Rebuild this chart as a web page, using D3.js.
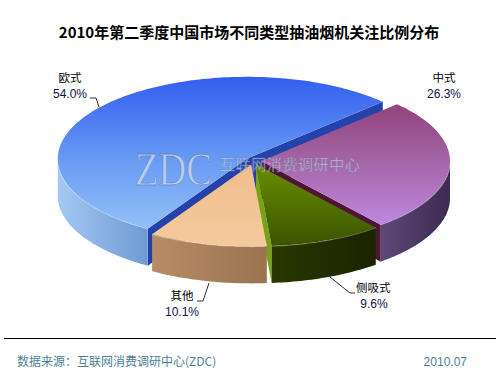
<!DOCTYPE html>
<html>
<head>
<meta charset="utf-8">
<script src="https://cdn.jsdelivr.net/npm/d3@7"></script>
<style>
  body { margin: 0; background: #fff; }
  svg { display: block; font-family: "Noto Sans CJK SC", "Liberation Sans", sans-serif; }
</style>
</head>
<body>
<div id="chart"></div>
<script>
// 數據
const categories = ["中式", "侧吸式", "其他", "欧式"];
const values = [26.3, 9.6, 10.1, 54.0];
const valueLabels = ["26.3%", "9.6%", "10.1%", "54.0%"];
const titleText = "2010年第二季度中国市场不同类型抽油烟机关注比例分布";
const sourceText = "数据来源：互联网消费调研中心(ZDC)";
const dateText = "2010.07";

// 顏色 (top 漸層 / 側面 / 切面)
const topColors = [
  ["#8a3468", "#a466a8", "#c792f2"],
  ["#92c200", "#6a9000", "#3c5400"],
  ["#efb785", "#f1bd8c", "#f5c99c"],
  ["#3560ee", "#6a9cf4", "#9dc9fa"]
];
const wallColors = [["#5e4878", "#3c2a52"], ["#283800", "#1a2400"], ["#b68c66", "#9a7450"], ["#a4c8f2", "#6e9ad4"]];
const cutColors = ["#4e1634", "#74a414", "#a07a56", "#2343aa"];

const W = 500, H = 375;
const cx = 253, cy = 161, rx = 189, ry = 82, depth = 37, explode = 8;
const k = ry / rx;
const startOffset = 46 * Math.PI / 180;

const svg = d3.select("#chart").append("svg").attr("width", W).attr("height", H);
const defs = svg.append("defs");

// 標題
svg.append("text").attr("x", 249).attr("y", 38).attr("text-anchor", "middle")
  .attr("font-size", 15).attr("font-weight", "bold").attr("fill", "#000").text(titleText);

const pie = d3.pie().sort(null).startAngle(startOffset).endAngle(startOffset + 2 * Math.PI);
const arcs = pie(values).map((d, i) => {
  const m = (d.startAngle + d.endAngle) / 2;
  return { ...d, i, m, ox: explode * Math.sin(m), oy: -explode * Math.cos(m) * k };
});

// 漸層
arcs.forEach((d, i) => {
  const g = defs.append("linearGradient").attr("id", "top" + i)
    .attr("gradientUnits", "userSpaceOnUse").attr("x1", 0).attr("x2", 0).attr("y1", 80).attr("y2", 245);
  topColors[i].forEach((c, j) => g.append("stop").attr("offset", j / (topColors[i].length - 1)).attr("stop-color", c));
  const w = defs.append("linearGradient").attr("id", "wall" + i)
    .attr("x1", 0).attr("x2", 1).attr("y1", 0).attr("y2", 0);
  w.append("stop").attr("offset", 0).attr("stop-color", wallColors[i][0]);
  w.append("stop").attr("offset", 1).attr("stop-color", wallColors[i][1]);
});

const pt = (d, a, z) => [cx + d.ox + rx * Math.sin(a), cy + d.oy - ry * Math.cos(a) + z];
const arcPts = (d, a0, a1, z) => {
  const n = Math.max(2, Math.ceil(Math.abs(a1 - a0) / 0.02));
  return d3.range(n + 1).map(j => pt(d, a0 + (a1 - a0) * j / n, z));
};
const line = d3.line();

const walls = svg.append("g");
const tops = svg.append("g");

// 由後往前畫側面
const order = arcs.slice().sort((a, b) => -Math.cos(a.m) - -Math.cos(b.m));
order.forEach(d => {
  const apex = [cx + d.ox, cy + d.oy];
  // 切面
  [[d.startAngle, d.startAngle - Math.PI / 2], [d.endAngle, d.endAngle + Math.PI / 2]].forEach(([a, nrm]) => {
    if (Math.cos(nrm) < 0) {
      const e = pt(d, a, 0);
      walls.append("path")
        .attr("d", line([apex, e, [e[0], e[1] + depth], [apex[0], apex[1] + depth]]) + "Z")
        .attr("fill", cutColors[d.i]);
    }
  });
  // 外側面 (只畫朝前的部分)
  [[Math.PI / 2, 3 * Math.PI / 2], [5 * Math.PI / 2, 7 * Math.PI / 2]].forEach(([lo, hi]) => {
    const t0 = Math.max(lo, d.startAngle), t1 = Math.min(hi, d.endAngle);
    if (t1 > t0) {
      const up = arcPts(d, t0, t1, 0), down = arcPts(d, t1, t0, depth);
      walls.append("path").attr("d", line(up.concat(down)) + "Z").attr("fill", `url(#wall${d.i})`);
      walls.append("path").attr("d", line(up)).attr("fill", "none")
        .attr("stroke", "#fff").attr("stroke-opacity", 0.35).attr("stroke-width", 1.5);
    }
  });
});

// 頂面
arcs.forEach(d => {
  const apex = [cx + d.ox, cy + d.oy];
  tops.append("path")
    .attr("d", line([apex].concat(arcPts(d, d.startAngle, d.endAngle, 0))) + "Z")
    .attr("fill", `url(#top${d.i})`);
});

// 浮水印
const wm = svg.append("g").attr("opacity", 0.6);
wm.append("text").attr("x", 135).attr("y", 185).attr("font-family", "Liberation Serif, serif")
  .attr("font-size", 46).attr("textLength", 77).attr("lengthAdjust", "spacingAndGlyphs")
  .attr("fill", "#e4ebf7").attr("stroke", "#6f7f9f").attr("stroke-width", 0.8).text("ZDC");
wm.append("text").attr("x", 220).attr("y", 170).attr("font-size", 15).attr("letter-spacing", 0.6)
  .attr("fill", "#e4ebf7").attr("stroke", "#6f7f9f").attr("stroke-width", 0.4).text("互联网消费调研中心");

// 標籤
const labelPos = [
  { x: 444, y1: 82, y2: 98, anchor: "middle", line: null },
  { x: 356, y1: 292, y2: 308, x2: 374, anchor: "start", line: [[330, 277], [350, 293], [355, 293]] },
  { x: 182, y1: 300, y2: 316, anchor: "middle", line: [[209, 283], [203, 301], [197, 301]] },
  { x: 70, y1: 82, y2: 98, anchor: "middle", line: [[90, 98], [96, 98], [99, 107]] }
];
const labels = svg.append("g");
arcs.forEach(d => {
  const p = labelPos[d.i];
  labels.append("text").attr("x", p.x).attr("y", p.y1).attr("text-anchor", p.anchor)
    .attr("font-size", 11.5).attr("fill", "#000").text(categories[d.i]);
  labels.append("text").attr("x", p.x2 || p.x).attr("y", p.y2).attr("text-anchor", "middle")
    .attr("font-family", "Liberation Sans, Arial, sans-serif").attr("font-size", 12)
    .attr("fill", "#10104a").text(valueLabels[d.i]);
  if (p.line) labels.append("path").attr("d", line(p.line)).attr("fill", "none")
    .attr("stroke", "#333").attr("stroke-width", 1);
});

// 底部
svg.append("line").attr("x1", 4).attr("x2", 496).attr("y1", 338.5).attr("y2", 338.5)
  .attr("stroke", "#000").attr("stroke-width", 1);
svg.append("text").attr("x", 17).attr("y", 366).attr("font-size", 12).attr("fill", "#4f7f96").text(sourceText);
svg.append("text").attr("x", 467).attr("y", 366).attr("text-anchor", "end").attr("font-size", 12)
  .attr("font-family", "Liberation Sans, Arial, sans-serif").attr("fill", "#4f7f96").text(dateText);
</script>
</body>
</html>
